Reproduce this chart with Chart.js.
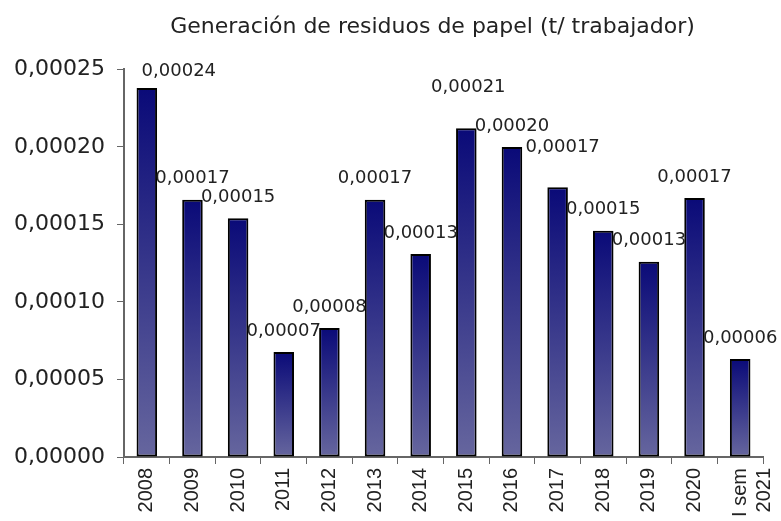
<!DOCTYPE html>
<html>
<head>
<meta charset="utf-8">
<script src="https://cdn.jsdelivr.net/npm/chart.js@4/dist/chart.umd.min.js"></script>
<style>
    html, body { margin: 0; padding: 0; background: #fff; }
</style>
</head>
<body>
<canvas id="paperChart" width="781" height="521"></canvas>
<script>
const years = ['2008', '2009', '2010', '2011', '2012', '2013', '2014', '2015', '2016', '2017', '2018', '2019', '2020', ['I sem', '2021']];
const paperWaste = [0.000238, 0.000166, 0.000154, 0.0000677, 0.0000832, 0.000166, 0.000131, 0.000212, 0.000200, 0.000174, 0.000146, 0.000126, 0.000167, 0.0000632];
const yTicks = [0, 0.00005, 0.0001, 0.00015, 0.0002, 0.00025];

const fmt = v => v.toFixed(5).replace('.', ',');

// a few labels were dragged around in the original: [dx, lift]
const labelShift = { 0: [32, 17], 7: [2, 41], 9: [5, 40] };

const valueLabels = {
    id: 'valueLabels',
    afterLayout(chart) {
        // title sits a little left of the plot centre in the original
        if (chart.titleBlock) chart.titleBlock.right -= 22;
    },
    afterDatasetsDraw(chart) {
        const ctx = chart.ctx;
        const meta = chart.getDatasetMeta(0);
        ctx.save();
        ctx.font = '18px "DejaVu Sans"';
        ctx.fillStyle = '#222';
        ctx.textAlign = 'center';
        ctx.textBaseline = 'middle';
        meta.data.forEach((bar, i) => {
            const [dx, lift] = labelShift[i] || [0, 21];
            ctx.fillText(fmt(paperWaste[i]), bar.x + dx, bar.y - lift);
        });
        ctx.restore();
    }
};

const ctx = document.getElementById('paperChart').getContext('2d');

new Chart(ctx, {
    type: 'bar',
    data: {
        labels: years,
        datasets: [{
            data: paperWaste,
            borderColor: '#000',
            borderWidth: 2,
            borderSkipped: false,
            barPercentage: 0.45,
            categoryPercentage: 1,
            backgroundColor: c => {
                const chart = c.chart;
                if (!chart.chartArea) return '#1a1a80';
                const y = chart.scales.y;
                const top = y.getPixelForValue(c.raw);
                const bottom = y.getPixelForValue(0);
                const g = chart.ctx.createLinearGradient(0, top, 0, bottom);
                g.addColorStop(0, '#0a0a78');
                g.addColorStop(1, '#66669e');
                return g;
            }
        }]
    },
    options: {
        responsive: false,
        animation: false,
        layout: {
            padding: { left: 0, right: 18, top: 0, bottom: 0 }
        },
        plugins: {
            legend: { display: false },
            tooltip: { enabled: false },
            title: {
                display: true,
                fullSize: false,
                text: 'Generación de residuos de papel (t/ trabajador)',
                color: '#222',
                font: { family: 'DejaVu Sans', size: 22, weight: 'normal', lineHeight: 1.2 },
                padding: { top: 14, bottom: 29 }
            }
        },
        scales: {
            x: {
                grid: {
                    display: true,
                    drawOnChartArea: false,
                    tickLength: 7,
                    color: '#666'
                },
                border: { color: '#666', width: 2 },
                ticks: {
                    minRotation: 90,
                    maxRotation: 90,
                    autoSkip: false,
                    color: '#222',
                    padding: 4,
                    font: { family: 'Liberation Sans', size: 20 }
                },
                afterFit: scale => {
                    scale.height = 64;
                    scale.paddingLeft = 0;
                    scale.paddingRight = 0;
                }
            },
            y: {
                min: 0,
                max: 0.00025,
                afterBuildTicks: scale => {
                    scale.ticks = yTicks.map(v => ({ value: v }));
                },
                grid: {
                    display: true,
                    drawOnChartArea: false,
                    tickLength: 7,
                    color: '#666'
                },
                border: { color: '#666', width: 2 },
                ticks: {
                    color: '#222',
                    padding: 12,
                    font: { family: 'DejaVu Sans', size: 22 },
                    callback: v => fmt(v)
                },
                afterFit: scale => { scale.width = 124; }
            }
        }
    },
    plugins: [valueLabels]
});
</script>
</body>
</html>
